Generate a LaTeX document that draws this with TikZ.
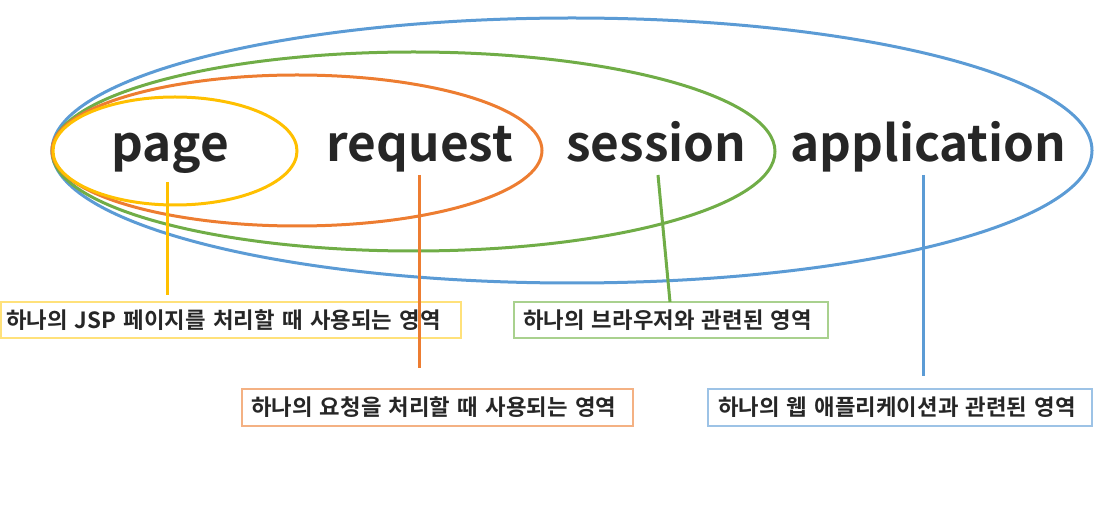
\documentclass[tikz,border=0pt]{standalone}
\usepackage{fontspec}
\setmainfont{Noto Sans CJK KR}[BoldFont={Noto Sans CJK KR Bold}]
\definecolor{ablue}{HTML}{5B9BD5}
\definecolor{agreen}{HTML}{70AD47}
\definecolor{aorange}{HTML}{ED7D31}
\definecolor{ayellow}{HTML}{FFC000}
\definecolor{bblue}{HTML}{9DC3E6}
\definecolor{bgreen}{HTML}{A9D18E}
\definecolor{borange}{HTML}{F4B183}
\definecolor{byellow}{HTML}{FFE17A}
\definecolor{txt}{HTML}{262626}
\tikzset{
  scopering/.style={line width=3pt},
  word/.style={anchor=base, inner sep=0pt, text=txt, font=\fontsize{49.5}{54}\selectfont\bfseries},
  labelbox/.style={draw, line width=1.1pt, anchor=center, align=left, inner ysep=0pt,
     text=txt, font=\fontsize{22.3}{26}\selectfont\bfseries},
  link/.style={line width=3pt}
}
\begin{document}
\begin{tikzpicture}[x=1pt,y=1pt]
\useasboundingbox (0,0) rectangle (1113,509);
% rings
\draw[scopering, ablue] (572,358.5) ellipse [x radius=520pt, y radius=132.5pt];
\draw[scopering, agreen] (413.5,357.5) ellipse [x radius=361.5pt, y radius=99.5pt];
\draw[scopering, aorange] (297,358.5) ellipse [x radius=245pt, y radius=75.5pt];
\draw[scopering, ayellow] (175,358) ellipse [x radius=122pt, y radius=54pt];
% words
\node[word] (page) at (170,347) {page};
\node[word] (request) at (420,347) {request};
\node[word] (session) at (656.5,347) {session};
\node[word] (application) at (928.5,347) {application};
% boxes
\node[labelbox, draw=byellow, minimum width=460pt, minimum height=36pt, inner xsep=5pt, text width=450pt] (bpage) at (231,189) {하나의 JSP 페이지를 처리할 때 사용되는 영역};
\node[labelbox, draw=borange, minimum width=391pt, minimum height=37pt, inner xsep=9pt, text width=373pt] (brequest) at (437.5,101.5) {하나의 요청을 처리할 때 사용되는 영역};
\node[labelbox, draw=bgreen, minimum width=314pt, minimum height=36pt, inner xsep=9pt, text width=296pt] (bsession) at (671,189) {하나의 브라우저와 관련된 영역};
\node[labelbox, draw=bblue, minimum width=384pt, minimum height=37pt, inner xsep=10pt, text width=364pt] (bapp) at (900,101.5) {하나의 웹 애플리케이션과 관련된 영역};
% connectors
\coordinate (p1) at (167,327); \coordinate (p2) at (167,214);
\coordinate (r1) at (419,334); \coordinate (r2) at (419,141);
\coordinate (s1) at (658,334); \coordinate (s2) at (670,207);
\coordinate (a1) at (923,334); \coordinate (a2) at (923,133);
\draw[link, ayellow] (p1) -- (p2);
\draw[link, aorange] (r1) -- (r2);
\draw[link, agreen] (s1) -- (s2);
\draw[link, ablue] (a1) -- (a2);
\end{tikzpicture}
\end{document}
